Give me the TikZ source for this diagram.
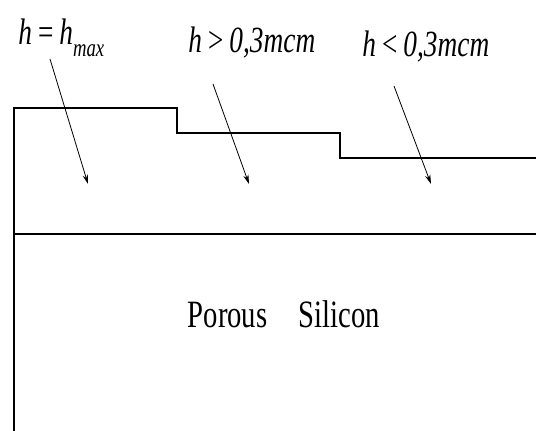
\documentclass[tikz,border=0pt]{standalone}
\usepackage{fontspec}
\setmainfont{Liberation Serif}
\usetikzlibrary{arrows.meta}
\newcommand{\tall}[1]{\scalebox{1}[1.35]{#1}}
\tikzset{
  layer/.style={line width=1.9pt},
  pointer/.style={-{Stealth[length=7pt,width=4pt]}, line width=0.6pt},
  lab/.style={anchor=base west, inner sep=0pt, font=\fontsize{20.5}{22}\selectfont\itshape}
}
\begin{document}
\begin{tikzpicture}[x=0.75pt,y=-0.75pt]
\useasboundingbox (0,0) rectangle (536,431);
% film steps and interface
\draw[layer] (14,431) -- (14,108) -- (177,108) -- (177,133) -- (340,133) -- (340,158) -- (536,158);
\draw[layer] (14,234) -- (536,234);

% labels over the steps
\node[lab] (hmax) at (18,45) {\tall{h\,=\,h\raisebox{-0.3em}{\fontsize{14}{14}\selectfont max}}};
\node[lab] (hgt) at (188,53) {\tall{h\,>\,0,3mcm}};
\node[lab] (hlt) at (362,57) {\tall{h\,<\,0,3mcm}};
\node[anchor=base, inner sep=0pt, font=\fontsize{21.5}{24}\selectfont] (ps) at (284,328) {\tall{Porous\hspace{1.1em}Silicon}};

% pointers into each step
\coordinate (s1) at (50,59);  \coordinate (t1) at (88,184);
\coordinate (s2) at (213,84); \coordinate (t2) at (249,184);
\coordinate (s3) at (394,86); \coordinate (t3) at (431,184);
\draw[pointer] (s1) -- (t1);
\draw[pointer] (s2) -- (t2);
\draw[pointer] (s3) -- (t3);
\end{tikzpicture}
\end{document}
